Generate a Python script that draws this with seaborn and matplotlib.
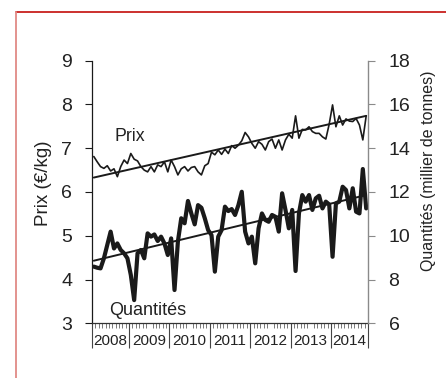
import numpy as np
import pandas as pd
import matplotlib
matplotlib.use("Agg")
import matplotlib.pyplot as plt
import seaborn as sns
from matplotlib.lines import Line2D

# ---------------- data ----------------
mois = pd.date_range("2008-02-01", periods=82, freq="MS")

prix = [6.81, 6.69, 6.58, 6.54, 6.60, 6.48, 6.53, 6.35, 6.58, 6.73, 6.65, 6.88,
        6.75, 6.71, 6.58, 6.50, 6.46, 6.58, 6.46, 6.62, 6.58, 6.69, 6.46, 6.73,
        6.58, 6.39, 6.53, 6.58, 6.48, 6.56, 6.58, 6.46, 6.39, 6.60, 6.65, 6.91,
        6.85, 6.96, 6.86, 6.98, 6.88, 7.06, 7.00, 7.07, 7.17, 7.36, 7.26, 7.11,
        7.00, 7.15, 7.09, 6.96, 7.15, 7.21, 7.00, 7.19, 6.96, 7.19, 7.32, 7.23,
        7.74, 7.23, 7.43, 7.42, 7.49, 7.38, 7.34, 7.34, 7.26, 7.21, 7.55, 7.99,
        7.49, 7.74, 7.53, 7.67, 7.62, 7.61, 7.68, 7.53, 7.19, 7.74]

quantites = [8.59, 8.54, 8.51, 8.97, 9.58, 10.19, 9.42, 9.65, 9.35, 9.20, 8.97, 8.21,
             7.06, 9.20, 9.35, 8.97, 10.11, 9.96, 10.06, 9.76, 9.96, 9.65, 9.12, 9.88,
             7.52, 9.73, 10.80, 10.57, 11.59, 11.02, 10.52, 11.40, 11.28, 10.80, 10.26, 10.03,
             8.36, 9.96, 10.26, 11.33, 11.13, 11.22, 10.95, 11.40, 12.01, 10.19, 9.65, 9.96,
             8.74, 10.34, 11.02, 10.72, 10.64, 10.95, 10.87, 10.19, 11.94, 11.18, 10.34, 11.18,
             8.39, 11.02, 11.86, 11.56, 11.86, 11.18, 11.71, 11.83, 11.25, 11.56, 11.43, 9.04,
             11.48, 11.56, 12.24, 12.09, 11.25, 12.17, 11.10, 11.02, 13.05, 11.25]

tendance_prix = [6.33, 7.74]
tendance_quantites = [8.86, 11.86]

annees = ["2008", "2009", "2010", "2011", "2012", "2013", "2014"]
ticks_prix = [3, 4, 5, 6, 7, 8, 9]
ticks_quantites = [6, 8, 10, 12, 14, 16, 18]

# ---------------- style ----------------
sns.set_theme(style="white")
plt.rcParams["font.family"] = ["Liberation Sans", "DejaVu Sans"]
ink = "#1a1a1a"

x = mois.year + (mois.month - 0.5) / 12.0
df = pd.DataFrame({"x": x, "prix": prix, "quantites": quantites})
tr = pd.DataFrame({"x": [x[0], x[-1]], "p": tendance_prix, "q": tendance_quantites})

W, H = 446, 378
fig = plt.figure(figsize=(W / 100, H / 100), dpi=100)
ax = fig.add_axes([92 / W, (H - 323.3) / H, 276 / W, 262.6 / H])
ax2 = ax.twinx()

sns.lineplot(data=df, x="x", y="prix", ax=ax, color=ink, lw=1.2)
sns.lineplot(data=tr, x="x", y="p", ax=ax, color=ink, lw=1.4)
sns.lineplot(data=df, x="x", y="quantites", ax=ax2, color=ink, lw=3.0)
sns.lineplot(data=tr, x="x", y="q", ax=ax2, color=ink, lw=1.4)

xmin, xmax = 2008.08, 2014.92
ax.set_xlim(xmin, xmax)
ax.set_ylim(3, 9)
ax2.set_ylim(6, 18)

# spines
for s in ["top", "right"]:
    ax.spines[s].set_visible(False)
for s in ["top", "left", "bottom"]:
    ax2.spines[s].set_visible(False)
ax.spines["left"].set_color(ink)
ax.spines["left"].set_linewidth(0.9)
ax.spines["bottom"].set_color("#333333")
ax.spines["bottom"].set_linewidth(0.9)
ax2.spines["right"].set_color("#8a8a8a")
ax2.spines["right"].set_linewidth(1.0)

# y ticks
ax.set_yticks(ticks_prix)
ax.set_yticklabels([str(t) for t in ticks_prix])
ax.tick_params(axis="y", which="major", left=True, direction="out", length=4.8,
               width=0.8, color=ink, labelsize=14, pad=9.5, labelcolor="#222222")
ax2.set_yticks(ticks_quantites)
ax2.set_yticklabels([str(t) for t in ticks_quantites])
ax2.tick_params(axis="y", which="major", right=True, direction="out", length=4.8,
                width=0.8, color="#8a8a8a", labelsize=14, pad=10, labelcolor="#222222")

# x ticks: year labels at centres, monthly minor ticks, long year separators
bornes = [xmin] + [int(a) for a in annees[1:]] + [xmax]
centres = [(bornes[i] + bornes[i + 1]) / 2 for i in range(len(annees))]
ax.set_xticks(centres)
ax.set_xticklabels(annees)
ax.tick_params(axis="x", which="major", bottom=True, length=0, labelsize=11, pad=8,
               labelcolor="#222222")
mensuel = [m for m in np.arange(2008, 2015.001, 1 / 12) if xmin < m < xmax]
ax.set_xticks(mensuel, minor=True)
ax.tick_params(axis="x", which="minor", bottom=True, direction="out", length=3.8,
               width=0.5, color="#444444")
sec = ax.secondary_xaxis("bottom")
sec.set_xticks(bornes)
sec.set_xticklabels([""] * len(bornes))
sec.tick_params(axis="x", bottom=True, direction="out", length=18, width=0.8, color="#444444")
sec.spines["bottom"].set_visible(False)

# labels
ax.set_xlabel("")
ax.set_ylabel("Prix (€/kg)", fontsize=13.5, color="#222222")
ax.yaxis.set_label_coords(-0.176, 0.535)
ax.yaxis.label.set(va="center", ha="center")
ax2.set_ylabel("Quantités (millier de tonnes)", fontsize=11.5, color="#222222")
ax2.yaxis.set_label_coords(1.221, 0.581)
ax2.yaxis.label.set(va="center", ha="center")

ax.text(2008.646, 7.26, "Prix", fontsize=12.8, color="#222222", ha="left", va="center")
ax.text(2008.498, 3.30, "Quantités", fontsize=13, color="#222222", ha="left", va="center")

# red frame
fig.add_artist(Line2D([15.5 / W, 1], [(H - 12.3) / H] * 2, transform=fig.transFigure,
                      color="#c8201e", lw=1.3))
fig.add_artist(Line2D([15.5 / W] * 2, [0, (H - 12.3) / H], transform=fig.transFigure,
                      color="#e08a86", lw=1.3))

fig.savefig("out.png", dpi=100)
